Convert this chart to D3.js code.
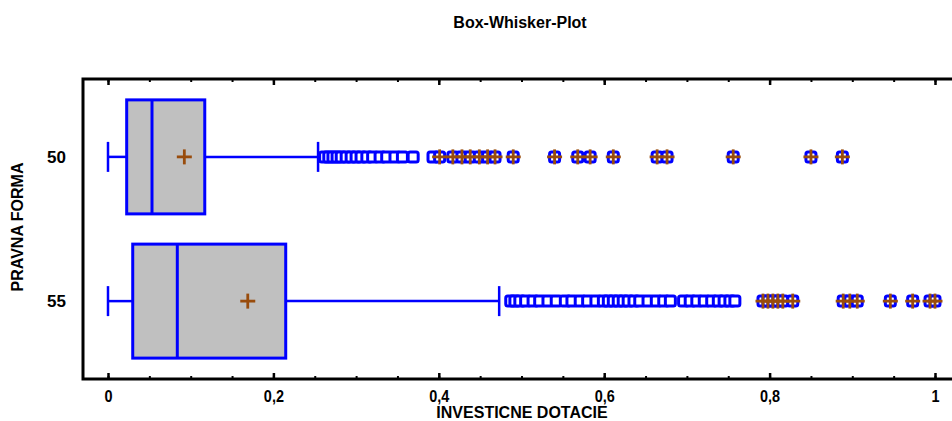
<!DOCTYPE html>
<html>
<head>
<meta charset="utf-8">
<script src="https://cdn.jsdelivr.net/npm/d3@7"></script>
<style>
  html, body { margin: 0; padding: 0; background: #fff; }
  svg { display: block; font-family: "Liberation Sans", Arial, sans-serif; font-weight: bold; }
</style>
</head>
<body>
<svg id="chart" width="952" height="421"></svg>
<script>
// Categories (legal form codes) and the box statistics for each
const categories = ["50", "55"];
const minValues    = [0, 0];
const q1Values     = [0.0226, 0.0299];
const medianValues = [0.0532, 0.0838];
const q3Values     = [0.117, 0.2149];
const maxWhisker   = [0.254, 0.473];
const meanValues   = [0.0923, 0.169];

// Outside points (beyond 1.5 IQR) and far-outside points (beyond 3 IQR)
const outside50 = [0.262, 0.267, 0.272, 0.277, 0.282, 0.288, 0.294, 0.300, 0.306, 0.313,
                   0.320, 0.329, 0.337, 0.347, 0.356, 0.369, 0.393];
const farOutside50 = [0.401, 0.417, 0.428, 0.438, 0.449, 0.459, 0.468, 0.490, 0.540, 0.568,
                      0.583, 0.611, 0.664, 0.676, 0.756, 0.850, 0.888];
const outside55 = [0.487, 0.492, 0.498, 0.505, 0.514, 0.522, 0.532, 0.542, 0.553, 0.561,
                   0.571, 0.580, 0.590, 0.599, 0.605, 0.611, 0.617, 0.623, 0.629, 0.636,
                   0.643, 0.653, 0.663, 0.672, 0.680, 0.696, 0.704, 0.712, 0.721, 0.730,
                   0.738, 0.745, 0.752, 0.758];
const farOutside55 = [0.792, 0.798, 0.804, 0.810, 0.816, 0.828, 0.889, 0.897, 0.906, 0.946,
                      0.973, 0.994, 1.0];

const outsideByCat    = [outside50, outside55];
const farOutsideByCat = [farOutside50, farOutside55];

const majorTicks = [0, 0.2, 0.4, 0.6, 0.8, 1];
const minorTicks = d3.range(0, 1.0001, 0.05).map(v => +v.toFixed(2));

const titleText = "Box-Whisker-Plot";
const xTitle = "INVESTICNE DOTACIE";
const yTitle = "PRAVNA FORMA";

// Layout
const frame = { left: 83, top: 79, bottom: 379, right: 964 };
const BLUE = "#0000ff", BOXFILL = "#c0c0c0", BROWN = "#994c0c";
const FONT = "'Liberation Sans', Arial, sans-serif";

const svg = d3.select("#chart");

const x = d3.scaleLinear().domain([0, 1]).range([108, 935]);
const y = d3.scalePoint().domain(categories).range([frame.top, frame.bottom]).padding(0.54);

const fmt = d3.formatLocale({ decimal: ",", thousands: ".", grouping: [3], currency: ["", ""] }).format("~g");

// Title
svg.append("text")
  .attr("x", 520).attr("y", 28)
  .attr("text-anchor", "middle")
  .style("font-size", "16px")
  .text(titleText);

// Bottom axis: major ticks with labels, minor ticks inward
const gBottom = svg.append("g").attr("transform", `translate(0,${frame.bottom})`);
gBottom.call(d3.axisBottom(x).tickValues(minorTicks).tickSize(-3).tickFormat(""))
  .call(g => g.select(".domain").remove());
gBottom.selectAll(".tick line").attr("stroke-width", 2);
const gBottomMajor = svg.append("g").attr("transform", `translate(0,${frame.bottom})`);
gBottomMajor.call(d3.axisBottom(x).tickValues(majorTicks).tickSize(-6).tickPadding(11).tickFormat(fmt))
  .call(g => g.select(".domain").remove());
gBottomMajor.selectAll(".tick line").attr("stroke-width", 2.5);
gBottomMajor.selectAll(".tick text")
  .style("font-size", "17px").style("font-family", FONT)
  .style("font-weight", "bold").attr("fill", "#000")
  .attr("transform", "scale(0.85,1)");

// Top axis ticks (no labels)
const gTop = svg.append("g").attr("transform", `translate(0,${frame.top})`);
gTop.call(d3.axisTop(x).tickValues(minorTicks).tickSize(-3).tickFormat(""))
  .call(g => g.select(".domain").remove());
gTop.selectAll(".tick line").attr("stroke-width", 2);
const gTopMajor = svg.append("g").attr("transform", `translate(0,${frame.top})`);
gTopMajor.call(d3.axisTop(x).tickValues(majorTicks).tickSize(-6).tickFormat(""))
  .call(g => g.select(".domain").remove());
gTopMajor.selectAll(".tick line").attr("stroke-width", 2.5);

// Left axis: category labels only
const gLeft = svg.append("g").attr("transform", `translate(${frame.left},0)`);
gLeft.call(d3.axisLeft(y).tickSize(0).tickPadding(17))
  .call(g => g.select(".domain").remove());
gLeft.selectAll(".tick text")
  .style("font-size", "17px").style("font-family", FONT)
  .style("font-weight", "bold").attr("fill", "#000");

// Plot frame
svg.append("rect")
  .attr("x", frame.left).attr("y", frame.top)
  .attr("width", frame.right - frame.left).attr("height", frame.bottom - frame.top)
  .attr("fill", "none").attr("stroke", "#000").attr("stroke-width", 3);

// Axis titles
svg.append("text")
  .attr("x", 522).attr("y", 418)
  .attr("text-anchor", "middle")
  .style("font-size", "16px")
  .text(xTitle);
svg.append("text")
  .attr("transform", "translate(23,227) rotate(-90)")
  .attr("text-anchor", "middle")
  .style("font-size", "16px")
  .text(yTitle);

// Boxes and whiskers
const boxH = 114, capH = 30;
const stats = categories.map((c, i) => ({
  cat: c, min: minValues[i], q1: q1Values[i], med: medianValues[i], q3: q3Values[i],
  hi: maxWhisker[i], mean: meanValues[i], out: outsideByCat[i], far: farOutsideByCat[i]
}));

const g = svg.append("g");
stats.forEach(s => {
  const cy = y(s.cat);
  // whiskers
  g.append("line").attr("x1", x(s.min)).attr("x2", x(s.q1)).attr("y1", cy).attr("y2", cy)
    .attr("stroke", BLUE).attr("stroke-width", 2.5);
  g.append("line").attr("x1", x(s.q3)).attr("x2", x(s.hi)).attr("y1", cy).attr("y2", cy)
    .attr("stroke", BLUE).attr("stroke-width", 2.5);
  [s.min, s.hi].forEach(v => {
    g.append("line").attr("x1", x(v)).attr("x2", x(v)).attr("y1", cy - capH / 2).attr("y2", cy + capH / 2)
      .attr("stroke", BLUE).attr("stroke-width", 2.5);
  });
  // box
  g.append("rect")
    .attr("x", x(s.q1)).attr("y", cy - boxH / 2)
    .attr("width", x(s.q3) - x(s.q1)).attr("height", boxH)
    .attr("fill", BOXFILL).attr("stroke", BLUE).attr("stroke-width", 3);
  // median
  g.append("line").attr("x1", x(s.med)).attr("x2", x(s.med))
    .attr("y1", cy - boxH / 2).attr("y2", cy + boxH / 2)
    .attr("stroke", BLUE).attr("stroke-width", 3);
});

// Outlier squares
const sq = 10;
const allOut = stats.flatMap(s => s.out.concat(s.far).map(v => ({ v, cat: s.cat })));
g.selectAll("rect.outlier").data(allOut).enter().append("rect")
  .attr("class", "outlier")
  .attr("x", d => x(d.v) - sq / 2).attr("y", d => y(d.cat) - sq / 2)
  .attr("width", sq).attr("height", sq).attr("rx", 2)
  .attr("fill", "#fff").attr("stroke", BLUE).attr("stroke-width", 3);

// Plus signs: means and far-outside points
const plus = 7.5;
const plusPts = stats.flatMap(s => [{ v: s.mean, cat: s.cat }].concat(s.far.map(v => ({ v, cat: s.cat }))));
const pg = g.selectAll("g.plus").data(plusPts).enter().append("g").attr("class", "plus")
  .attr("transform", d => `translate(${x(d.v)},${y(d.cat)})`);
pg.append("line").attr("x1", -plus).attr("x2", plus).attr("y1", 0).attr("y2", 0)
  .attr("stroke", BROWN).attr("stroke-width", 2.8);
pg.append("line").attr("x1", 0).attr("x2", 0).attr("y1", -plus).attr("y2", plus)
  .attr("stroke", BROWN).attr("stroke-width", 2.8);
</script>
</body>
</html>
